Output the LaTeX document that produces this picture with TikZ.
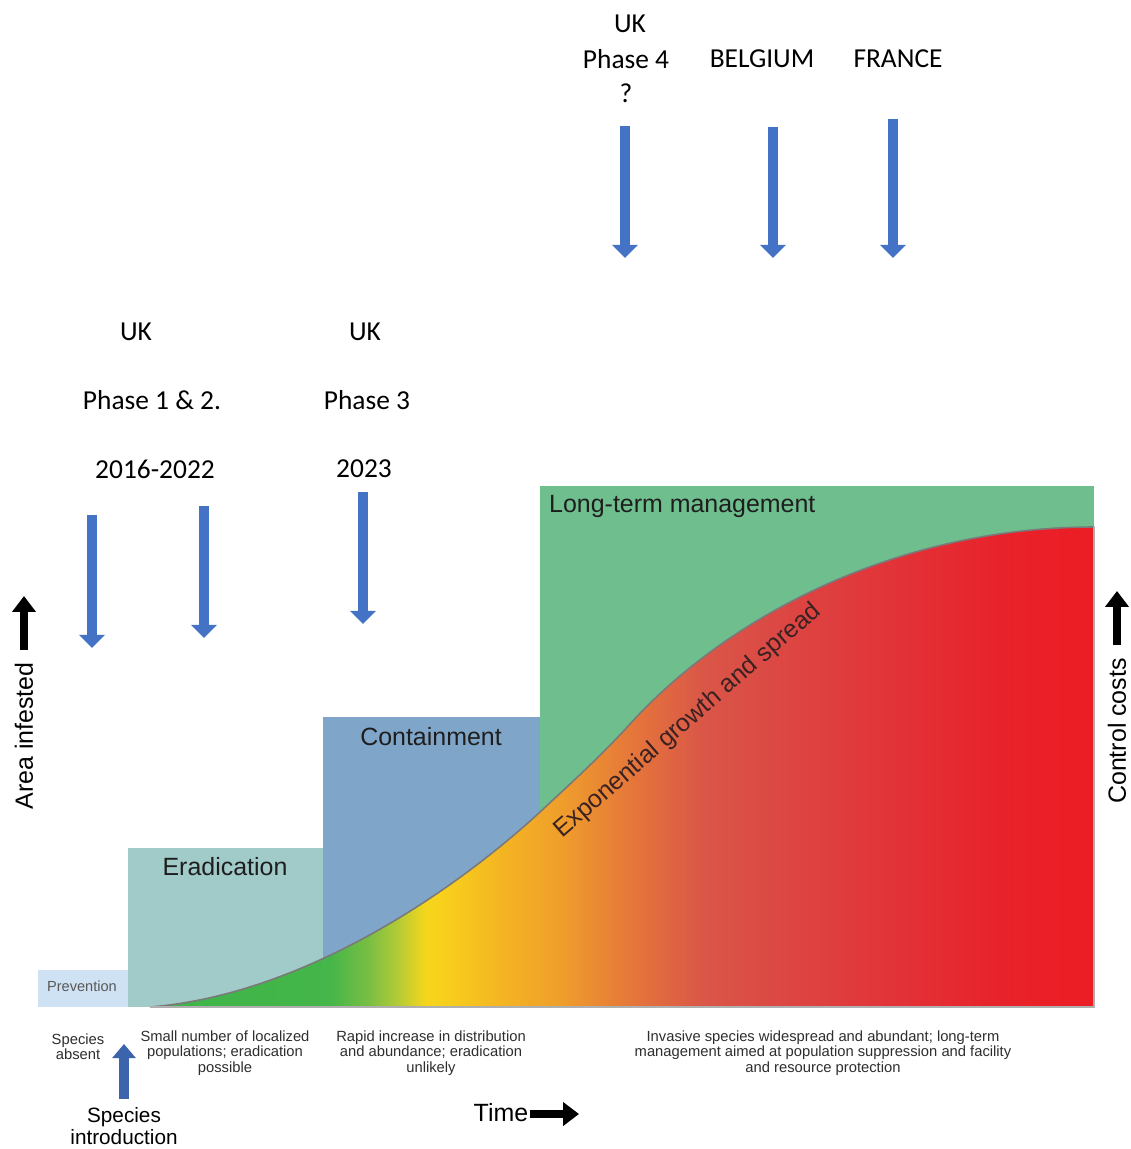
\documentclass[tikz,border=0pt]{standalone}
\usepackage{fontspec}
\setmainfont{Carlito}
\newfontfamily\chartfont{Liberation Sans}
\usetikzlibrary{arrows.meta,positioning}

\definecolor{prevblue}{HTML}{CFE2F3}
\definecolor{eradteal}{HTML}{A0CBC8}
\definecolor{contblue}{HTML}{7FA6C9}
\definecolor{mgmtgreen}{HTML}{6FBE8E}
\definecolor{markblue}{HTML}{4472C4}
\definecolor{introblue}{HTML}{3C64AC}
\definecolor{curvegray}{HTML}{7A7A7A}
\definecolor{labeltext}{HTML}{1E1E1E}
\definecolor{desctext}{HTML}{2E2E2E}
\definecolor{growtext}{HTML}{3A2222}
% colours of the invasion curve, left to right
\definecolor{gA}{HTML}{3CB44A}
\definecolor{gB}{HTML}{45B649}
\definecolor{gC}{HTML}{7CBF43}
\definecolor{gD}{HTML}{B9CC34}
\definecolor{gE}{HTML}{F6D61B}
\definecolor{gF}{HTML}{F8CF1C}
\definecolor{gG}{HTML}{F4B522}
\definecolor{gH}{HTML}{EF9E2B}
\definecolor{gI}{HTML}{E5773A}
\definecolor{gJ}{HTML}{DA5747}
\definecolor{gK}{HTML}{DB4B45}
\definecolor{gL}{HTML}{E1353A}
\definecolor{gM}{HTML}{E8222A}
\definecolor{gN}{HTML}{EC1C24}

% the invasion curve
\newcommand{\invcurve}{(150,1007) .. controls (300,995) and (450,895) .. (540,812)
    .. controls (570,784) and (600,757) .. (630,724)
    .. controls (730,614) and (900,527) .. (1094,527)}

\begin{document}
\begin{tikzpicture}[x=0.02cm,y=-0.02cm,
    countrylbl/.style={font=\fontsize{15.6}{18}\selectfont},
    stagelbl/.style={font=\chartfont\fontsize{14.2}{16}\selectfont, text=labeltext},
    desclbl/.style={font=\chartfont\fontsize{8.4}{8.7}\selectfont, text=desctext, align=center},
    marker/.style={markblue, line width=6pt, -{Triangle[width=14.5pt,length=7.5pt]}},
    bigarrow/.style={black, line width=5pt, -{Triangle[width=13pt,length=9pt]}}]

    \useasboundingbox (0,0) rectangle (1131,1149);
    \fill[white] (0,0) rectangle (1131,1149);

    % Stage blocks
    \fill[prevblue] (38,970) rectangle (128,1007);
    \fill[eradteal] (128,848) rectangle (323,1007);
    \fill[contblue] (323,717) rectangle (540,1007);
    \fill[mgmtgreen] (540,486) rectangle (1094,1007);

    % Area under the invasion curve
    \begin{scope}
        \clip \invcurve -- (1094,1007) -- cycle;
        \foreach \xa/\ca/\xb/\cb in {140/gA/330/gB, 330/gB/370/gC, 370/gC/400/gD, 400/gD/425/gE,
                                    425/gE/445/gF, 445/gF/500/gG, 500/gG/560/gH, 560/gH/630/gI,
                                    630/gI/700/gJ, 700/gJ/760/gK, 760/gK/880/gL, 880/gL/1000/gM, 1000/gM/1100/gN}
            \fill[left color=\ca, right color=\cb] (\xa,500) rectangle (\xb+1,1010);
    \end{scope}
    \draw[curvegray, line width=0.9pt] \invcurve;
    \draw[curvegray!60, line width=0.8pt] (150,1007) -- (1094,1007) -- (1094,527);

    % Stage names
    \node[stagelbl, font=\chartfont\fontsize{8.3}{10}\selectfont, text=desctext!80] (prevLbl) at (82,986) {Prevention};
    \node[stagelbl] (eradLbl) at (225,867) {Eradication};
    \node[stagelbl] (contLbl) at (431,737) {Containment};
    \node[stagelbl, anchor=west] (mgmtLbl) at (543,507) {Long-term management};
    \node[stagelbl, text=growtext, rotate=41] (growLbl) at (688,721) {Exponential growth and spread};

    % Axes
    \node[stagelbl, text=black, rotate=90] (areaLbl) at (24,736) {Area infested};
    \coordinate (areaBase) at (24,650);
    \coordinate (areaTip) at (24,596);
    \draw[bigarrow] (areaBase) -- (areaTip);
    \node[stagelbl, text=black, rotate=90] (costLbl) at (1117,731) {Control costs};
    \coordinate (costBase) at (1117,645);
    \coordinate (costTip) at (1117,591);
    \draw[bigarrow] (costBase) -- (costTip);
    \node[stagelbl, text=black, inner sep=1pt] (timeLbl) at (501,1113) {Time};
    \coordinate (timeTip) at (579,1114);
    \draw[bigarrow] (timeLbl.east |- timeTip) -- (timeTip);

    % Stage descriptions
    \node[desclbl] (absentTxt) at (78,1047) {Species\\absent};
    \node[desclbl] (localTxt) at (225,1053) {Small number of localized\\populations; eradication\\possible};
    \node[desclbl] (rapidTxt) at (431,1053) {Rapid increase in distribution\\and abundance; eradication\\unlikely};
    \node[desclbl] (wideTxt) at (823,1053) {Invasive species widespread and abundant; long-term\\management aimed at population suppression and facility\\and resource protection};

    % Species introduction
    \node[stagelbl, text=black, font=\chartfont\fontsize{11.8}{13}\selectfont, align=center] (introLbl) at (124,1126) {Species\\introduction};
    \coordinate (introBase) at (124,1099);
    \coordinate (introTip) at (124,1044);
    \draw[introblue, line width=5.5pt, -{Triangle[width=13pt,length=8pt]}] (introBase) -- (introTip);

    % Country markers, lower row
    \node[countrylbl] (ukA) at (136,332) {UK};
    \node[countrylbl] (phaseA) at (152,400) {Phase 1 \& 2.};
    \node[countrylbl] (yearA) at (155,469) {2016-2022};
    \node[countrylbl] (ukB) at (365,332) {UK};
    \node[countrylbl] (phaseB) at (367,400) {Phase 3};
    \node[countrylbl] (yearB) at (364,469) {2023};
    \coordinate (mA) at (92,515);  \coordinate (mAtip) at (92,648);
    \coordinate (mB) at (204,506); \coordinate (mBtip) at (204,638);
    \coordinate (mC) at (363,492); \coordinate (mCtip) at (363,624);
    \draw[marker] (mA) -- (mAtip);
    \draw[marker] (mB) -- (mBtip);
    \draw[marker] (mC) -- (mCtip);

    % Country markers, upper row
    \node[countrylbl] (ukC) at (630,24) {UK};
    \node[countrylbl] (phaseC) at (626,59) {Phase 4};
    \node[countrylbl] (askC) at (626,93) {?};
    \node[countrylbl] (belLbl) at (762,59) {BELGIUM};
    \node[countrylbl] (fraLbl) at (898,59) {FRANCE};
    \coordinate (mD) at (625,126); \coordinate (mDtip) at (625,258);
    \coordinate (mE) at (773,127); \coordinate (mEtip) at (773,258);
    \coordinate (mF) at (893,119); \coordinate (mFtip) at (893,258);
    \draw[marker] (mD) -- (mDtip);
    \draw[marker] (mE) -- (mEtip);
    \draw[marker] (mF) -- (mFtip);

\end{tikzpicture}
\end{document}
